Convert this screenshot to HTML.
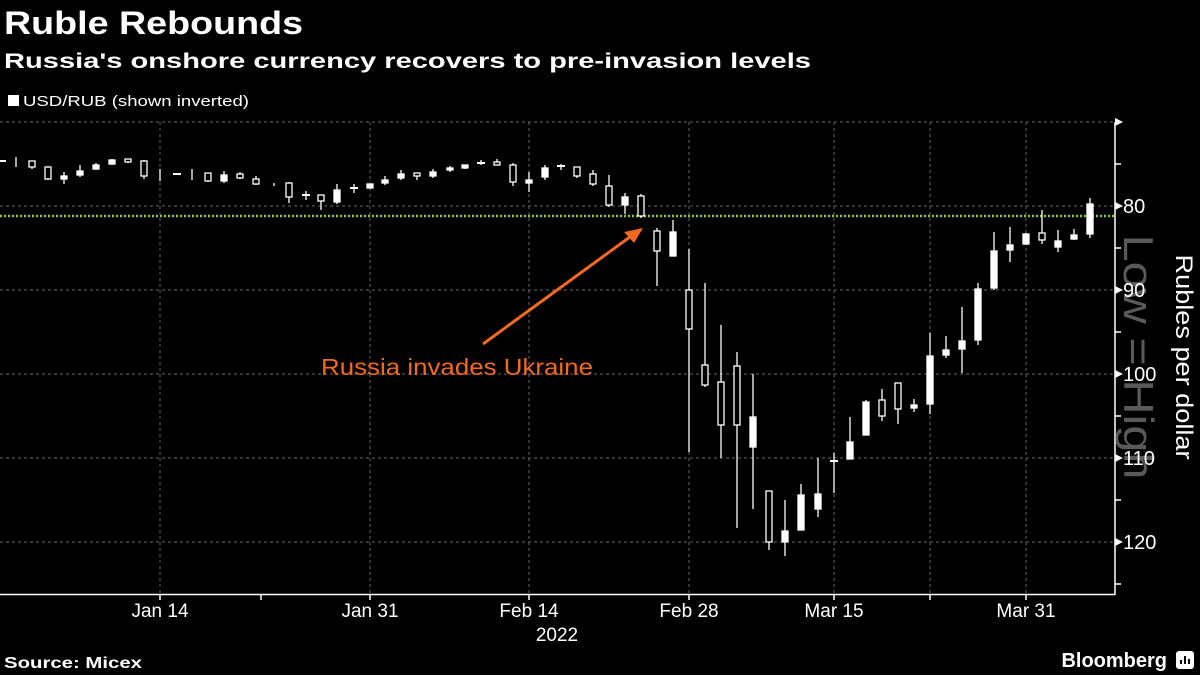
<!DOCTYPE html>
<html><head><meta charset="utf-8"><style>
html,body{margin:0;padding:0;background:#000;}
svg{display:block;font-family:"Liberation Sans",sans-serif;}
</style></head><body>
<svg width="1200" height="675" viewBox="0 0 1200 675" xmlns="http://www.w3.org/2000/svg">
<rect width="1200" height="675" fill="#000"/>
<text x="4" y="34" fill="#fff" font-size="32" font-weight="bold" textLength="299" lengthAdjust="spacingAndGlyphs">Ruble Rebounds</text>
<text x="4" y="68" fill="#fff" font-size="21" font-weight="bold" textLength="807" lengthAdjust="spacingAndGlyphs">Russia's onshore currency recovers to pre-invasion levels</text>
<rect x="8" y="95" width="11" height="11" fill="#fff"/>
<text x="23" y="106" fill="#fff" font-size="15" textLength="226" lengthAdjust="spacingAndGlyphs">USD/RUB (shown inverted)</text>
<g stroke="#666" stroke-width="1" stroke-dasharray="3,3">
<line x1="0" y1="122" x2="1114" y2="122"/>
<line x1="0" y1="206" x2="1114" y2="206"/>
<line x1="0" y1="290" x2="1114" y2="290"/>
<line x1="0" y1="374" x2="1114" y2="374"/>
<line x1="0" y1="458" x2="1114" y2="458"/>
<line x1="0" y1="542" x2="1114" y2="542"/>
<line x1="160" y1="122" x2="160" y2="594"/>
<line x1="370" y1="122" x2="370" y2="594"/>
<line x1="529" y1="122" x2="529" y2="594"/>
<line x1="689" y1="122" x2="689" y2="594"/>
<line x1="834" y1="122" x2="834" y2="594"/>
<line x1="930" y1="122" x2="930" y2="594"/>
<line x1="1026" y1="122" x2="1026" y2="594"/>
</g>
<line x1="0" y1="216" x2="1114" y2="216" stroke="#8dc63f" stroke-width="2.5" stroke-dasharray="2,2"/>
<line x1="0" y1="594.5" x2="1115" y2="594.5" stroke="#fff" stroke-width="1.5"/>
<line x1="1115" y1="122" x2="1115" y2="595" stroke="#fff" stroke-width="1.5"/>
<g stroke="#fff" stroke-width="1.5">
<line x1="160" y1="594" x2="160" y2="600"/><line x1="261" y1="594" x2="261" y2="600"/>
<line x1="370" y1="594" x2="370" y2="600"/><line x1="529" y1="594" x2="529" y2="600"/>
<line x1="689" y1="594" x2="689" y2="600"/><line x1="834" y1="594" x2="834" y2="600"/>
<line x1="930" y1="594" x2="930" y2="600"/><line x1="1026" y1="594" x2="1026" y2="600"/>
<line x1="1115" y1="164" x2="1121" y2="164"/><line x1="1115" y1="248" x2="1121" y2="248"/>
<line x1="1115" y1="332" x2="1121" y2="332"/><line x1="1115" y1="416" x2="1121" y2="416"/>
<line x1="1115" y1="500" x2="1121" y2="500"/><line x1="1115" y1="584" x2="1121" y2="584"/>
</g>
<g fill="#fff">
<polygon points="1115,118 1123,122 1115,126"/><polygon points="1115,202 1123,206 1115,210"/>
<polygon points="1115,286 1123,290 1115,294"/><polygon points="1115,370 1123,374 1115,378"/>
<polygon points="1115,454 1123,458 1115,462"/><polygon points="1115,538 1123,542 1115,546"/>
</g>
<text transform="translate(1124,357) rotate(90)" text-anchor="middle" fill="#5a5a5a" font-size="42" textLength="245" lengthAdjust="spacingAndGlyphs">Low = High</text>
<g fill="#fff" font-size="20">
<text x="1123" y="213">80</text><text x="1123" y="297">90</text><text x="1123" y="381">100</text>
<text x="1123" y="465">110</text><text x="1123" y="549">120</text>
</g>
<text transform="translate(1176,357) rotate(90)" text-anchor="middle" fill="#fff" font-size="24" textLength="205" lengthAdjust="spacingAndGlyphs">Rubles per dollar</text>
<g fill="#fff" font-size="19" text-anchor="middle">
<text x="160" y="617">Jan 14</text><text x="370" y="617">Jan 31</text><text x="529" y="617">Feb 14</text>
<text x="689" y="617">Feb 28</text><text x="834" y="617">Mar 15</text><text x="1026" y="617">Mar 31</text>
<text x="557" y="641">2022</text>
</g>
<text x="4" y="668" fill="#fff" font-size="16" font-weight="bold" textLength="138" lengthAdjust="spacingAndGlyphs">Source: Micex</text>
<text x="1167" y="667" fill="#fff" font-size="20" font-weight="bold" text-anchor="end">Bloomberg</text>
<rect x="1176" y="651" width="18" height="18" rx="3" fill="#fff"/>
<g stroke="#000" stroke-width="2"><line x1="1181" y1="664" x2="1181" y2="660"/><line x1="1185" y1="664" x2="1185" y2="656"/><line x1="1189" y1="664" x2="1189" y2="659"/></g>
<text x="321" y="375" fill="#f26a21" font-size="23" textLength="272" lengthAdjust="spacingAndGlyphs">Russia invades Ukraine</text>
<line x1="483" y1="344" x2="634" y2="234" stroke="#f26a21" stroke-width="3"/>
<polygon points="643,228 624,232 634,243" fill="#f26a21"/>
<g stroke="#fff" stroke-width="1.3">
<line x1="0" y1="161" x2="6" y2="161" stroke-width="2"/>
<line x1="16" y1="157" x2="16" y2="167"/>
<line x1="32" y1="161" x2="32" y2="169"/><rect x="29" y="161" width="6" height="6" fill="#000"/>
<line x1="48" y1="166" x2="48" y2="180"/><rect x="45" y="167" width="6" height="12" fill="#000"/>
<line x1="64" y1="172" x2="64" y2="184"/><rect x="61" y="176" width="6" height="3" fill="#fff"/>
<line x1="80" y1="165" x2="80" y2="177"/><rect x="77" y="171" width="6" height="4" fill="#fff"/>
<line x1="96" y1="163" x2="96" y2="170"/><rect x="93" y="165" width="6" height="4" fill="#fff"/>
<line x1="112" y1="159" x2="112" y2="165"/><rect x="109" y="160" width="6" height="4" fill="#fff"/>
<line x1="128" y1="159" x2="128" y2="163"/><rect x="125" y="159" width="6" height="3" fill="#000"/>
<line x1="144" y1="160" x2="144" y2="179"/><rect x="141" y="161" width="6" height="15" fill="#000"/>
<line x1="160" y1="169" x2="160" y2="181"/>
<line x1="173" y1="174" x2="181" y2="174" stroke-width="2"/>
<line x1="192" y1="169" x2="192" y2="180"/>
<line x1="208" y1="173" x2="208" y2="182"/><rect x="205" y="173" width="6" height="8" fill="#000"/>
<line x1="224" y1="171" x2="224" y2="183"/><rect x="221" y="175" width="6" height="6" fill="#fff"/>
<line x1="240" y1="172" x2="240" y2="179"/><rect x="237" y="174" width="6" height="4" fill="#000"/>
<line x1="256" y1="176" x2="256" y2="185"/><rect x="253" y="179" width="6" height="5" fill="#000"/>
<line x1="274" y1="183" x2="274" y2="186"/>
<line x1="289" y1="182" x2="289" y2="203"/><rect x="286" y="183" width="6" height="14" fill="#000"/>
<line x1="306" y1="191" x2="306" y2="200"/><line x1="302" y1="195" x2="310" y2="195" stroke-width="2"/>
<line x1="321" y1="195" x2="321" y2="210"/><rect x="318" y="195" width="6" height="6" fill="#000"/>
<line x1="337" y1="184" x2="337" y2="204"/><rect x="334" y="190" width="6" height="12" fill="#fff"/>
<line x1="354" y1="184" x2="354" y2="193"/><line x1="350" y1="188" x2="358" y2="188" stroke-width="2"/>
<line x1="370" y1="184" x2="370" y2="188"/><rect x="367" y="184" width="6" height="4" fill="#fff"/>
<line x1="385" y1="176" x2="385" y2="185"/><rect x="382" y="180" width="6" height="3" fill="#fff"/>
<line x1="401" y1="170" x2="401" y2="180"/><rect x="398" y="174" width="6" height="4" fill="#fff"/>
<line x1="417" y1="173" x2="417" y2="180"/><rect x="414" y="173" width="6" height="3" fill="#000"/>
<line x1="433" y1="169" x2="433" y2="178"/><rect x="430" y="172" width="6" height="4" fill="#fff"/>
<line x1="450" y1="166" x2="450" y2="172"/><rect x="447" y="168" width="6" height="2" fill="#fff"/>
<line x1="465" y1="165" x2="465" y2="169"/><rect x="462" y="165" width="6" height="3" fill="#fff"/>
<line x1="481" y1="160" x2="481" y2="165"/><line x1="477" y1="163" x2="485" y2="163" stroke-width="2"/>
<line x1="497" y1="159" x2="497" y2="165"/><rect x="494" y="162" width="6" height="3" fill="#000"/>
<line x1="513" y1="163" x2="513" y2="186"/><rect x="510" y="165" width="6" height="17" fill="#000"/>
<line x1="529" y1="172" x2="529" y2="192"/><rect x="526" y="180" width="6" height="3" fill="#fff"/>
<line x1="545" y1="165" x2="545" y2="180"/><rect x="542" y="168" width="6" height="9" fill="#fff"/>
<line x1="561" y1="164" x2="561" y2="170"/><line x1="557" y1="166" x2="565" y2="166" stroke-width="2"/>
<line x1="577" y1="167" x2="577" y2="178"/><rect x="574" y="167" width="6" height="9" fill="#000"/>
<line x1="593" y1="170" x2="593" y2="186"/><rect x="590" y="174" width="6" height="10" fill="#000"/>
<line x1="609" y1="175" x2="609" y2="207"/><rect x="606" y="186" width="6" height="19" fill="#000"/>
<line x1="625" y1="193" x2="625" y2="214"/><rect x="622" y="197" width="6" height="8" fill="#fff"/>
<line x1="641" y1="194" x2="641" y2="218"/><rect x="638" y="196" width="6" height="20" fill="#000"/>
<line x1="657" y1="228" x2="657" y2="286"/><rect x="654" y="231" width="6" height="20" fill="#000"/>
<line x1="673" y1="220" x2="673" y2="256"/><rect x="670" y="232" width="6" height="24" fill="#fff"/>
<line x1="689" y1="249" x2="689" y2="452"/><rect x="686" y="290" width="6" height="39" fill="#000"/>
<line x1="705" y1="283" x2="705" y2="387"/><rect x="702" y="365" width="6" height="20" fill="#000"/>
<line x1="721" y1="325" x2="721" y2="458"/><rect x="718" y="382" width="6" height="43" fill="#000"/>
<line x1="737" y1="352" x2="737" y2="528"/><rect x="734" y="366" width="6" height="59" fill="#000"/>
<line x1="753" y1="374" x2="753" y2="509"/><rect x="750" y="417" width="6" height="30" fill="#fff"/>
<line x1="769" y1="491" x2="769" y2="550"/><rect x="766" y="491" width="6" height="51" fill="#000"/>
<line x1="785" y1="500" x2="785" y2="556"/><rect x="782" y="531" width="6" height="11" fill="#fff"/>
<line x1="801" y1="484" x2="801" y2="530"/><rect x="798" y="495" width="6" height="35" fill="#fff"/>
<line x1="818" y1="458" x2="818" y2="517"/><rect x="815" y="494" width="6" height="15" fill="#fff"/>
<line x1="834" y1="453" x2="834" y2="493"/><line x1="830" y1="461" x2="838" y2="461" stroke-width="2"/>
<line x1="850" y1="417" x2="850" y2="459"/><rect x="847" y="442" width="6" height="17" fill="#fff"/>
<line x1="866" y1="400" x2="866" y2="435"/><rect x="863" y="402" width="6" height="33" fill="#fff"/>
<line x1="882" y1="389" x2="882" y2="421"/><rect x="879" y="400" width="6" height="16" fill="#000"/>
<line x1="898" y1="383" x2="898" y2="424"/><rect x="895" y="383" width="6" height="26" fill="#000"/>
<line x1="914" y1="399" x2="914" y2="412"/><rect x="911" y="405" width="6" height="3" fill="#fff"/>
<line x1="930" y1="333" x2="930" y2="414"/><rect x="927" y="356" width="6" height="48" fill="#fff"/>
<line x1="946" y1="336" x2="946" y2="358"/><rect x="943" y="350" width="6" height="5" fill="#fff"/>
<line x1="962" y1="307" x2="962" y2="373"/><rect x="959" y="341" width="6" height="8" fill="#fff"/>
<line x1="978" y1="283" x2="978" y2="345"/><rect x="975" y="289" width="6" height="51" fill="#fff"/>
<line x1="994" y1="232" x2="994" y2="290"/><rect x="991" y="251" width="6" height="37" fill="#fff"/>
<line x1="1010" y1="227" x2="1010" y2="262"/><rect x="1007" y="245" width="6" height="5" fill="#fff"/>
<line x1="1026" y1="233" x2="1026" y2="245"/><rect x="1023" y="234" width="6" height="10" fill="#fff"/>
<line x1="1042" y1="210" x2="1042" y2="244"/><rect x="1039" y="233" width="6" height="7" fill="#000"/>
<line x1="1058" y1="230" x2="1058" y2="252"/><rect x="1055" y="241" width="6" height="6" fill="#fff"/>
<line x1="1074" y1="229" x2="1074" y2="240"/><rect x="1071" y="235" width="6" height="4" fill="#fff"/>
<line x1="1090" y1="198" x2="1090" y2="238"/><rect x="1087" y="204" width="6" height="30" fill="#fff"/>
</g>
</svg>
</body></html>
